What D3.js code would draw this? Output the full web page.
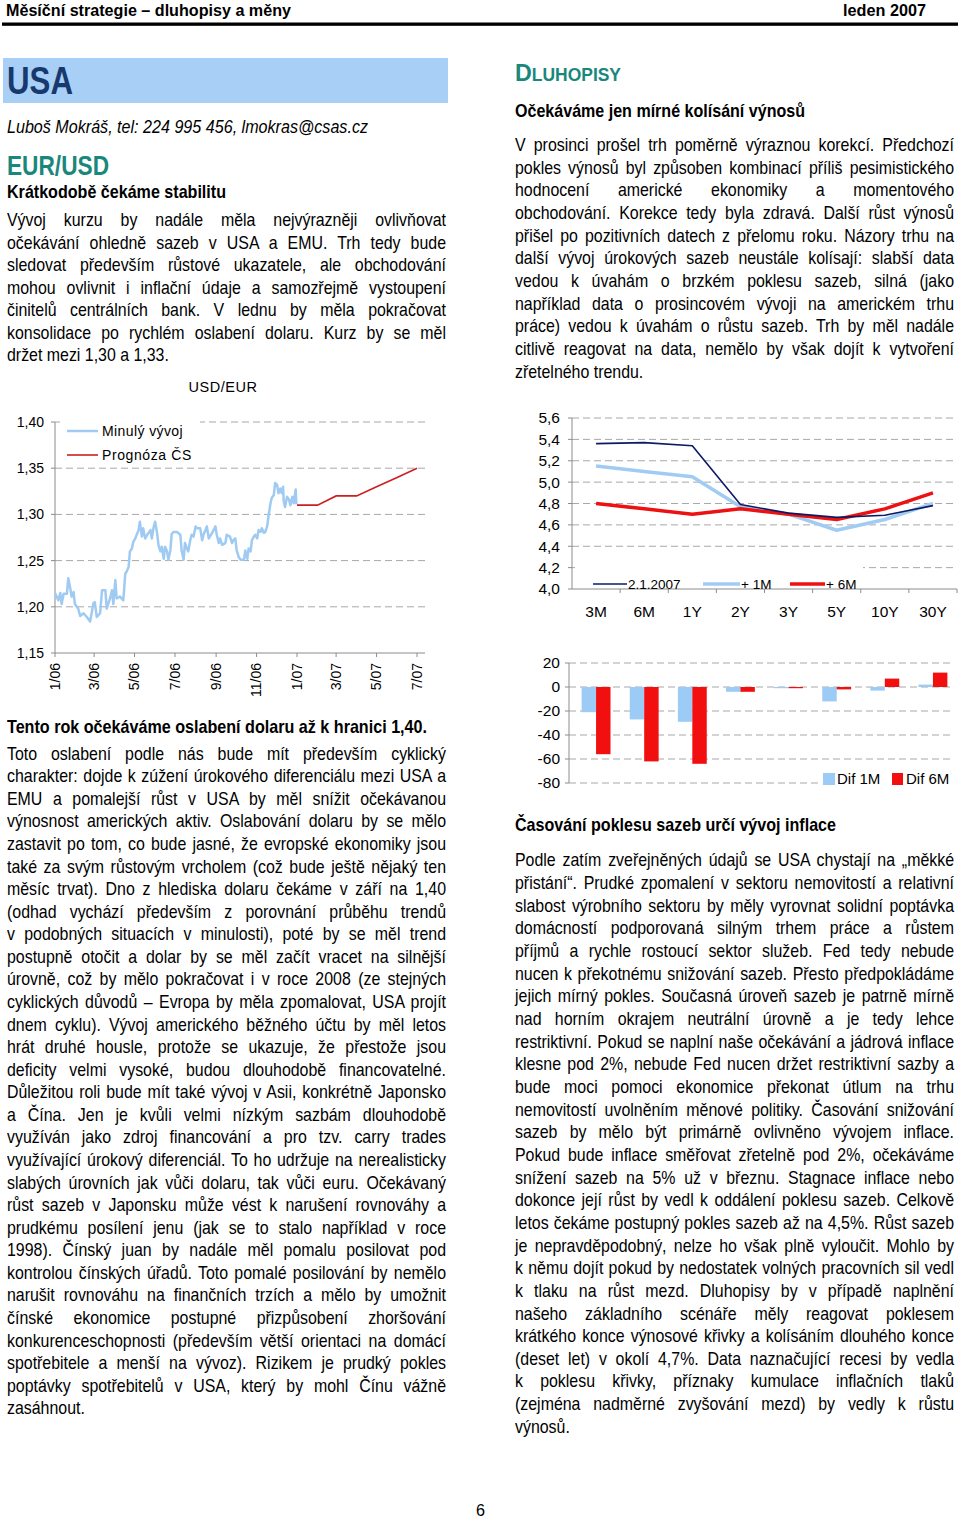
<!DOCTYPE html>
<html><head><meta charset="utf-8">
<script src="https://cdn.jsdelivr.net/npm/d3@7"></script>
<style>
body{margin:0;width:960px;height:1519px;background:#fff;position:relative;overflow:hidden;font-family:"Liberation Sans",Arial,sans-serif;color:#000}
.ln{position:absolute;white-space:nowrap;transform-origin:0 50%}
svg{position:absolute;left:0;top:0}
svg text{font-family:"Liberation Sans",Arial,sans-serif}
</style></head><body>
<script>
// ---------- DATA ----------
// USD/EUR past (day offset from 1 Jan 2006, value)
const usdDays = [0,5,8,10,13,18,20,23,25,28,30,35,38,43,48,53,58,60,63,68,71,76,78,83,86,88,91,93,98,103,106,108,111,113,116,118,121,126,128,131,133,136,141,144,146,149,151,154,156,159,161,164,166,169,171,174,176,179,184,189,191,194,196,199,201,204,206,209,212,214,219,222,224,227,229,232,237,242,244,247,249,252,257,259,264,267,269,272,274,277,280,285,287,290,292,295,297,300,302,305,307,310,312,315,317,320,322,325,327,330,332,335,337,340,342,344,345,347,350,353,355,358,360,363,364];
const usdValues = [1.215,1.207,1.215,1.203,1.214,1.214,1.231,1.220,1.211,1.216,1.203,1.198,1.190,1.193,1.189,1.184,1.204,1.205,1.189,1.193,1.218,1.218,1.198,1.209,1.218,1.203,1.229,1.209,1.211,1.207,1.236,1.238,1.243,1.260,1.263,1.270,1.274,1.283,1.292,1.276,1.285,1.274,1.280,1.283,1.274,1.287,1.292,1.280,1.267,1.260,1.265,1.252,1.265,1.260,1.251,1.261,1.279,1.281,1.281,1.278,1.261,1.251,1.269,1.263,1.260,1.272,1.278,1.276,1.287,1.285,1.285,1.272,1.278,1.283,1.287,1.274,1.280,1.287,1.278,1.269,1.274,1.267,1.269,1.278,1.276,1.269,1.272,1.274,1.261,1.254,1.251,1.251,1.261,1.252,1.263,1.260,1.272,1.276,1.278,1.274,1.283,1.281,1.285,1.280,1.281,1.287,1.298,1.312,1.318,1.321,1.334,1.332,1.323,1.328,1.323,1.330,1.314,1.308,1.319,1.316,1.310,1.319,1.312,1.327,1.311];
const fcDates = ['2007-01-01','2007-02-01','2007-03-01','2007-04-01','2007-05-01','2007-06-01','2007-07-01'];
const fcValues = [1.31,1.31,1.32,1.32,1.33,1.34,1.35];
const usdTickLabels = ['1/06','3/06','5/06','7/06','9/06','11/06','1/07','3/07','5/07','7/07'];
const usdYTicks = [1.15,1.20,1.25,1.30,1.35,1.40];

const lineCats = ['3M','6M','1Y','2Y','3Y','5Y','10Y','30Y'];
const curveNow = [5.36,5.37,5.34,4.79,4.71,4.67,4.69,4.78];
const curve1M  = [5.15,5.10,5.05,4.77,4.70,4.55,4.65,4.80];
const curve6M  = [4.80,4.75,4.70,4.75,4.70,4.65,4.75,4.90];
const curveYTicks = [4.0,4.2,4.4,4.6,4.8,5.0,5.2,5.4,5.6];

const dif1M = [-21,-27,-29,-4,-1,-12,-3,2];
const dif6M = [-56,-62,-64,-4,-1,-2,7,12];
const difYTicks = [-80,-60,-40,-20,0,20];

// ---------- TEXT ----------
const para1 = ["Vývoj kurzu by nadále měla nejvýrazněji ovlivňovat","očekávání ohledně sazeb v\u00a0USA a EMU. Trh tedy bude","sledovat především růstové ukazatele, ale obchodování","mohou ovlivnit i inflační údaje a samozřejmě vystoupení","činitelů centrálních bank. V\u00a0lednu by měla pokračovat","konsolidace po rychlém oslabení dolaru. Kurz by se měl","držet mezi 1,30 a 1,33."];
const para2 = ["Toto oslabení podle nás bude mít především cyklický","charakter: dojde k\u00a0zúžení úrokového diferenciálu mezi USA a","EMU a pomalejší růst v\u00a0USA by měl snížit očekávanou","výnosnost amerických aktiv. Oslabování dolaru by se mělo","zastavit po tom, co bude jasné, že evropské ekonomiky jsou","také za svým růstovým vrcholem (což bude ještě nějaký ten","měsíc trvat). Dno z\u00a0hlediska dolaru čekáme v\u00a0září na 1,40","(odhad vychází především z\u00a0porovnání průběhu trendů","v\u00a0podobných situacích v\u00a0minulosti), poté by se měl trend","postupně otočit a dolar by se měl začít vracet na silnější","úrovně, což by mělo pokračovat i v\u00a0roce 2008 (ze stejných","cyklických důvodů – Evropa by měla zpomalovat, USA projít","dnem cyklu). Vývoj amerického běžného účtu by měl letos","hrát druhé housle, protože se ukazuje, že přestože jsou","deficity velmi vysoké, budou dlouhodobě financovatelné.","Důležitou roli bude mít také vývoj v Asii, konkrétně Japonsko","a Čína. Jen je kvůli velmi nízkým sazbám dlouhodobě","využíván jako zdroj financování a pro tzv. carry trades","využívající úrokový diferenciál. To ho udržuje na nerealisticky","slabých úrovních jak vůči dolaru, tak vůči euru. Očekávaný","růst sazeb v Japonsku může vést k\u00a0narušení rovnováhy a","prudkému posílení jenu (jak se to stalo například v\u00a0roce","1998). Čínský juan by nadále měl pomalu posilovat pod","kontrolou čínských úřadů. Toto pomalé posilování by nemělo","narušit rovnováhu na finančních trzích a mělo by umožnit","čínské ekonomice postupné přizpůsobení zhoršování","konkurenceschopnosti (především větší orientaci na domácí","spotřebitele a menší na vývoz). Rizikem je prudký pokles","poptávky spotřebitelů v\u00a0USA, který by mohl Čínu vážně","zasáhnout."];
const para3 = ["V prosinci prošel trh poměrně výraznou korekcí. Předchozí","pokles výnosů byl způsoben kombinací příliš pesimistického","hodnocení americké ekonomiky a momentového","obchodování. Korekce tedy byla zdravá. Další růst výnosů","přišel po pozitivních datech z\u00a0přelomu roku. Názory trhu na","další vývoj úrokových sazeb neustále kolísají: slabší data","vedou k\u00a0úvahám o brzkém poklesu sazeb, silná (jako","například data o prosincovém vývoji na americkém trhu","práce) vedou k\u00a0úvahám o růstu sazeb. Trh by měl nadále","citlivě reagovat na data, nemělo by však dojít k\u00a0vytvoření","zřetelného trendu."];
const para4 = ["Podle zatím zveřejněných údajů se USA chystají na „měkké","přistání“. Prudké zpomalení v sektoru nemovitostí a relativní","slabost výrobního sektoru by měly vyrovnat solidní poptávka","domácností podporovaná silným trhem práce a růstem","příjmů a rychle rostoucí sektor služeb. Fed tedy nebude","nucen k překotnému snižování sazeb. Přesto předpokládáme","jejich mírný pokles. Současná úroveň sazeb je patrně mírně","nad horním okrajem neutrální úrovně a je tedy lehce","restriktivní. Pokud se naplní naše očekávání a jádrová inflace","klesne pod 2%, nebude Fed nucen držet restriktivní sazby a","bude moci pomoci ekonomice překonat útlum na trhu","nemovitostí uvolněním měnové politiky. Časování snižování","sazeb by mělo být primárně ovlivněno vývojem inflace.","Pokud bude inflace směřovat zřetelně pod 2%, očekáváme","snížení sazeb na 5% už v\u00a0březnu. Stagnace inflace nebo","dokonce její růst by vedl k oddálení poklesu sazeb. Celkově","letos čekáme postupný pokles sazeb až na 4,5%. Růst sazeb","je nepravděpodobný, nelze ho však plně vyloučit. Mohlo by","k\u00a0němu dojít pokud by nedostatek volných pracovních sil vedl","k\u00a0tlaku na růst mezd. Dluhopisy by v\u00a0případě naplnění","našeho základního scénáře měly reagovat poklesem","krátkého konce výnosové křivky a kolísáním dlouhého konce","(deset let) v\u00a0okolí 4,7%. Data naznačující recesi by vedla","k\u00a0poklesu křivky, příznaky kumulace inflačních tlaků","(zejména nadměrné zvyšování mezd) by vedly k\u00a0růstu","výnosů."];

const body = d3.select('body');
const svg = body.append('svg').attr('width',960).attr('height',1519);

// page decorations
svg.append('rect').attr('x',2).attr('y',22.5).attr('width',956).attr('height',3.3).attr('fill','#000');
svg.append('rect').attr('x',3).attr('y',58).attr('width',445).attr('height',45).attr('fill','#a8cff6');

const NARROW = 0.86, BODY = 18.5;
function txt(s, x, cy, o = {}) {
  const size = o.size || BODY, lh = o.lh || 22;
  const div = body.append('div').attr('class','ln')
    .style('left', x + 'px').style('top', (cy - lh / 2) + 'px')
    .style('font-size', size + 'px').style('line-height', lh + 'px')
    .style('font-weight', o.bold ? 'bold' : 'normal')
    .style('font-style', o.italic ? 'italic' : 'normal')
    .style('color', o.color || '#000');
  if (o.html) div.html(s); else div.text(s);
  const nat = div.node().getBoundingClientRect().width;
  if (o.fit) {
    div.style('transform', `scaleX(${o.w / nat})`);
  } else if (o.justify) {
    const full = o.w / NARROW;
    if (nat <= full - 0.5) {
      div.style('width', full + 'px').style('text-align','justify').style('text-align-last','justify').style('white-space','normal')
        .style('transform', `scaleX(${NARROW})`);
    } else {
      div.style('transform', `scaleX(${o.w / nat})`);
    }
  } else {
    div.style('transform', `scaleX(${NARROW})`);
  }
  return div;
}
function para(lines, x, y0, step, w) {
  lines.forEach((l, i) => {
    const last = i === lines.length - 1;
    txt(l, x, y0 + i * step, last ? {} : { w: w, justify: true });
  });
}

// headings
txt('Měsíční strategie – dluhopisy a měny', 6, 11, { size: 17, bold: true, w: 285, fit: true });
txt('leden 2007', 843, 11, { size: 17, bold: true, w: 83, fit: true });
txt('USA', 7, 81, { size: 38, lh: 44, bold: true, color: '#17396e', w: 66, fit: true });
txt('Luboš Mokráš, tel: 224 995 456, lmokras@csas.cz', 6.5, 127, { italic: true, w: 361, fit: true });
txt('EUR/USD', 6.5, 166, { size: 28, lh: 32, bold: true, color: '#1a877b', w: 102, fit: true });
txt('Krátkodobě čekáme stabilitu', 6.5, 192, { bold: true, w: 219, fit: true });
para(para1, 6.5, 220, 22.5, 439);
txt('Tento rok očekáváme oslabení dolaru až k hranici 1,40.', 6.5, 727, { bold: true, w: 420, fit: true });
para(para2, 6.5, 753.7, 22.57, 439);

txt('<span style="font-size:24px">D</span>LUHOPISY', 515, 73, { html: true, size: 18, lh: 28, bold: true, color: '#1a877b', w: 106, fit: true });
txt('Očekáváme jen mírné kolísání výnosů', 515, 111, { bold: true, w: 290, fit: true });
para(para3, 515, 145, 22.66, 439);
txt('Časování poklesu sazeb určí vývoj inflace', 515, 825, { bold: true, w: 321, fit: true });
para(para4, 515, 860.3, 22.66, 439);
txt('6', 476, 1511, { size: 17, lh: 20, w: 9, fit: true });

// ---------- CHART 1: USD/EUR ----------
const gridCol = '#a8a8a8', axisCol = '#8c8c8c';
{
  const g = svg.append('g');
  const t0 = new Date(2006, 0, 1);
  const x = d3.scaleTime().domain([t0, new Date(2007, 6, 1)]).range([55, 417]);
  const y = d3.scaleLinear().domain([1.15, 1.40]).range([653, 422]);
  g.append('text').attr('x', 223).attr('y', 387).attr('dy', '0.35em').attr('text-anchor', 'middle')
    .attr('font-size', 14.5).attr('letter-spacing', 0.5).text('USD/EUR');
  g.selectAll('.gl').data(usdYTicks.slice(1)).join('line')
    .attr('x1', 55).attr('x2', 425).attr('y1', d => y(d)).attr('y2', d => y(d))
    .attr('stroke', gridCol).attr('stroke-dasharray', '7,4');
  g.append('line').attr('x1', 55).attr('x2', 55).attr('y1', 422).attr('y2', 653).attr('stroke', axisCol);
  g.append('line').attr('x1', 55).attr('x2', 425).attr('y1', 653).attr('y2', 653).attr('stroke', axisCol);
  g.selectAll('.yt').data(usdYTicks).join('line').attr('x1', 51).attr('x2', 55)
    .attr('y1', d => y(d)).attr('y2', d => y(d)).attr('stroke', axisCol);
  g.selectAll('.yl').data(usdYTicks).join('text').attr('x', 44).attr('y', d => y(d)).attr('dy', '0.35em')
    .attr('text-anchor', 'end').attr('font-size', 14).text(d => d3.format('.2f')(d).replace('.', ','));
  const tickDates = usdTickLabels.map(s => { const [m, yy] = s.split('/'); return new Date(2000 + +yy, +m - 1, 1); });
  g.selectAll('.xt').data(tickDates).join('line').attr('x1', d => x(d)).attr('x2', d => x(d))
    .attr('y1', 653).attr('y2', 657).attr('stroke', axisCol);
  g.selectAll('.xl').data(usdTickLabels).join('text')
    .attr('transform', (d, i) => `translate(${x(tickDates[i])},663) rotate(-90)`)
    .attr('text-anchor', 'end').attr('dy', '0.35em').attr('font-size', 14).text(d => d);
  g.append('rect').attr('x', 60).attr('y', 414).attr('width', 140).attr('height', 50).attr('fill', '#fff');
  const past = usdDays.map((d, i) => [d3.timeDay.offset(t0, d), usdValues[i]]);
  const fc = fcDates.map((d, i) => [new Date(d + 'T00:00:00'), fcValues[i]]);
  const ln = d3.line().x(d => x(d[0])).y(d => y(d[1]));
  g.append('path').attr('d', ln(past)).attr('fill', 'none').attr('stroke', '#9fcbf3').attr('stroke-width', 2.5).attr('stroke-linejoin', 'round');
  g.append('path').attr('d', ln(fc)).attr('fill', 'none').attr('stroke', '#cc1f1f').attr('stroke-width', 1.6);
  g.append('line').attr('x1', 67).attr('x2', 98).attr('y1', 431).attr('y2', 431).attr('stroke', '#9fcbf3').attr('stroke-width', 2.5);
  g.append('line').attr('x1', 67).attr('x2', 98).attr('y1', 455).attr('y2', 455).attr('stroke', '#cc1f1f').attr('stroke-width', 1.6);
  g.append('text').attr('x', 102).attr('y', 431).attr('dy', '0.35em').attr('font-size', 14).attr('letter-spacing', 0.4).text('Minulý vývoj');
  g.append('text').attr('x', 102).attr('y', 455).attr('dy', '0.35em').attr('font-size', 14).attr('letter-spacing', 0.6).text('Prognóza ČS');
}

// ---------- CHART 2: yield curves ----------
{
  const g = svg.append('g');
  const x = d3.scaleBand().domain(lineCats).range([572, 957]);
  const y = d3.scaleLinear().domain([4.0, 5.6]).range([589, 418]);
  g.selectAll('.gl').data(curveYTicks.slice(1)).join('line')
    .attr('x1', 572).attr('x2', 953).attr('y1', d => y(d)).attr('y2', d => y(d))
    .attr('stroke', gridCol).attr('stroke-dasharray', '7,4');
  g.append('line').attr('x1', 572).attr('x2', 572).attr('y1', 418).attr('y2', 589).attr('stroke', axisCol);
  g.append('line').attr('x1', 572).attr('x2', 957).attr('y1', 589).attr('y2', 589).attr('stroke', axisCol);
  g.selectAll('.yt').data(curveYTicks).join('line').attr('x1', 568).attr('x2', 572)
    .attr('y1', d => y(d)).attr('y2', d => y(d)).attr('stroke', axisCol);
  g.selectAll('.xt').data(lineCats.slice(1)).join('line').attr('x1', d => x(d)).attr('x2', d => x(d))
    .attr('y1', 589).attr('y2', 593).attr('stroke', axisCol);
  g.append('line').attr('x1', 957).attr('x2', 957).attr('y1', 589).attr('y2', 593).attr('stroke', axisCol);
  g.selectAll('.yl').data(curveYTicks).join('text').attr('x', 560).attr('y', d => y(d)).attr('dy', '0.35em')
    .attr('text-anchor', 'end').attr('font-size', 15.5).text(d => d3.format('.1f')(d).replace('.', ','));
  g.selectAll('.xl').data(lineCats).join('text').attr('x', d => x(d) + x.bandwidth() / 2).attr('y', 612).attr('dy', '0.35em')
    .attr('text-anchor', 'middle').attr('font-size', 15.5).text(d => d);
  g.append('rect').attr('x', 575).attr('y', 560).attr('width', 288).attr('height', 27).attr('fill', '#fff');
  const ln = d3.line().x((d, i) => x(lineCats[i]) + x.bandwidth() / 2).y(d => y(d));
  g.append('path').attr('d', ln(curve1M)).attr('fill', 'none').attr('stroke', '#a0ccf4').attr('stroke-width', 3.5).attr('stroke-linejoin', 'round');
  g.append('path').attr('d', ln(curve6M)).attr('fill', 'none').attr('stroke', '#ee1111').attr('stroke-width', 3.5).attr('stroke-linejoin', 'round');
  g.append('path').attr('d', ln(curveNow)).attr('fill', 'none').attr('stroke', '#0c1a66').attr('stroke-width', 1.6).attr('stroke-linejoin', 'round');
  const leg = [['2.1.2007', '#0c1a66', 1.6, 593, 627], ['+ 1M', '#a0ccf4', 3.5, 703, 740], ['+ 6M', '#ee1111', 3.5, 790, 825]];
  leg.forEach(([t, c, w, a, b]) => {
    g.append('line').attr('x1', a).attr('x2', b).attr('y1', 584).attr('y2', 584).attr('stroke', c).attr('stroke-width', w);
    g.append('text').attr('x', b + 1).attr('y', 584).attr('dy', '0.35em').attr('font-size', 13.5).text(t);
  });
}

// ---------- CHART 3: differences (bars) ----------
{
  const g = svg.append('g');
  const x0 = d3.scaleBand().domain(lineCats).range([572, 957]).paddingInner(0.4).paddingOuter(0.2);
  const x1 = d3.scaleBand().domain(['d1', 'd6']).range([0, x0.bandwidth()]);
  const y = d3.scaleLinear().domain([-80, 20]).range([783, 663]);
  g.selectAll('.gl').data(difYTicks).join('line')
    .attr('x1', 569).attr('x2', 953).attr('y1', d => y(d)).attr('y2', d => y(d))
    .attr('stroke', gridCol).attr('stroke-dasharray', '7,4');
  g.append('line').attr('x1', 569).attr('x2', 569).attr('y1', 663).attr('y2', 783).attr('stroke', axisCol);
  g.selectAll('.yt').data(difYTicks).join('line').attr('x1', 565).attr('x2', 569)
    .attr('y1', d => y(d)).attr('y2', d => y(d)).attr('stroke', axisCol);
  g.selectAll('.yl').data(difYTicks).join('text').attr('x', 560).attr('y', d => y(d)).attr('dy', '0.35em')
    .attr('text-anchor', 'end').attr('font-size', 15.5).text(d => d);
  const series = [['d1', dif1M, '#9ccbf5'], ['d6', dif6M, '#f20f0f']];
  series.forEach(([k, vals, col]) => {
    g.selectAll('.b' + k).data(vals).join('rect')
      .attr('x', (d, i) => x0(lineCats[i]) + x1(k)).attr('width', x1.bandwidth())
      .attr('y', d => y(Math.max(0, d))).attr('height', d => Math.abs(y(d) - y(0)))
      .attr('fill', col);
  });
  g.append('rect').attr('x', 820).attr('y', 770).attr('width', 136).attr('height', 20).attr('fill', '#fff');
  g.append('rect').attr('x', 823).attr('y', 773).attr('width', 12).attr('height', 12).attr('fill', '#9ccbf5');
  g.append('text').attr('x', 837).attr('y', 779).attr('dy', '0.35em').attr('font-size', 15).text('Dif 1M');
  g.append('rect').attr('x', 892).attr('y', 773).attr('width', 11).attr('height', 12).attr('fill', '#f20f0f');
  g.append('text').attr('x', 906).attr('y', 779).attr('dy', '0.35em').attr('font-size', 15).text('Dif 6M');
}
</script>
</body></html>
